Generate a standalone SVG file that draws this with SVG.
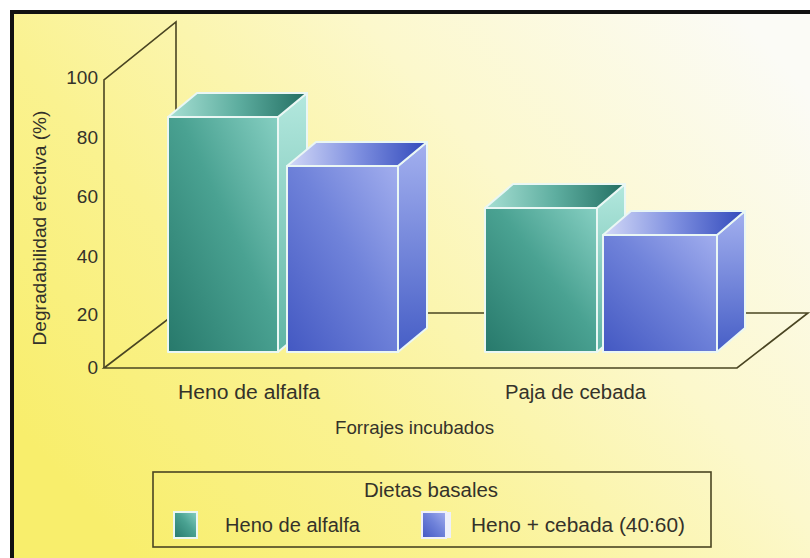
<svg xmlns="http://www.w3.org/2000/svg" width="810" height="558" viewBox="0 0 810 558">
<defs>
<linearGradient id="bg" x1="0" y1="0.75" x2="1" y2="0.15">
<stop offset="0" stop-color="#f8ee6c"/>
<stop offset="0.3" stop-color="#faf290"/>
<stop offset="0.65" stop-color="#fcf8cc"/>
<stop offset="1" stop-color="#fbfbf6"/>
</linearGradient>
<linearGradient id="tFront" x1="1" y1="0" x2="0" y2="1">
<stop offset="0" stop-color="#86cfc2"/>
<stop offset="0.45" stop-color="#4aa292"/>
<stop offset="1" stop-color="#27796b"/>
</linearGradient>
<linearGradient id="tSide" x1="0" y1="0" x2="0" y2="1">
<stop offset="0" stop-color="#b3e8de"/>
<stop offset="1" stop-color="#5fb4a4"/>
</linearGradient>
<linearGradient id="tTop" x1="0" y1="0" x2="1" y2="0">
<stop offset="0" stop-color="#a8e0d4"/>
<stop offset="0.5" stop-color="#5eaea0"/>
<stop offset="1" stop-color="#226e62"/>
</linearGradient>
<linearGradient id="bFront" x1="1" y1="0" x2="0" y2="1">
<stop offset="0" stop-color="#a2aeee"/>
<stop offset="0.45" stop-color="#7083da"/>
<stop offset="1" stop-color="#4358c2"/>
</linearGradient>
<linearGradient id="bSide" x1="0" y1="0" x2="0" y2="1">
<stop offset="0" stop-color="#a3b0ef"/>
<stop offset="1" stop-color="#465ec6"/>
</linearGradient>
<linearGradient id="bTop" x1="0" y1="0" x2="1" y2="0">
<stop offset="0" stop-color="#d4daf7"/>
<stop offset="0.5" stop-color="#7f90e0"/>
<stop offset="1" stop-color="#3149bb"/>
</linearGradient>
</defs>
<style>
.ax{fill:none;stroke:#4a4522;stroke-width:1.6}
.edge{stroke:#eaf7f4;stroke-width:2;stroke-linejoin:round}
text{font-family:"Liberation Sans",Arial,sans-serif;fill:#34322a}
.tick{font-size:19px;text-anchor:end}
.lbl{font-size:20px}
</style>
<rect x="0" y="0" width="810" height="558" fill="#ffffff"/>
<rect x="12" y="12" width="798" height="546" fill="url(#bg)"/>
<path d="M12 558 V12 H810" fill="none" stroke="#111" stroke-width="4"/>

<g id="axes" class="ax">
<path d="M104 368 V80 L176 22 V313"/>
<path d="M104 368 L176 313 H808 L737 368 Z"/>
</g>

<g id="ticks">
<text class="tick" x="98" y="84">100</text>
<text class="tick" x="98" y="144">80</text>
<text class="tick" x="98" y="203">60</text>
<text class="tick" x="98" y="263">40</text>
<text class="tick" x="98" y="321">20</text>
<text class="tick" x="98" y="374">0</text>
</g>
<text id="ytitle" x="0" y="0" font-size="18" text-anchor="middle" textLength="235" lengthAdjust="spacingAndGlyphs" transform="translate(46,228) rotate(-90)">Degradabilidad efectiva (%)</text>

<g id="bar-alfalfa-alfalfa" class="edge">
<polygon points="278,117 307,93 307,328 278,352" fill="url(#tSide)"/>
<polygon points="168,117 278,117 307,93 197,93" fill="url(#tTop)"/>
<rect x="168" y="117" width="110" height="235" fill="url(#tFront)"/>
</g>
<g id="bar-alfalfa-mezcla" class="edge">
<polygon points="398,166 427,142 427,328 398,352" fill="url(#bSide)"/>
<polygon points="287,166 398,166 427,142 316,142" fill="url(#bTop)"/>
<rect x="287" y="166" width="111" height="186" fill="url(#bFront)"/>
</g>
<g id="bar-paja-alfalfa" class="edge">
<polygon points="597,208 625,184 625,328 597,352" fill="url(#tSide)"/>
<polygon points="485,208 597,208 625,184 513,184" fill="url(#tTop)"/>
<rect x="485" y="208" width="112" height="144" fill="url(#tFront)"/>
</g>
<g id="bar-paja-mezcla" class="edge">
<polygon points="717,235 745,211 745,328 717,352" fill="url(#bSide)"/>
<polygon points="603,235 717,235 745,211 631,211" fill="url(#bTop)"/>
<rect x="603" y="235" width="114" height="117" fill="url(#bFront)"/>
</g>

<g id="xlabels">
<text class="lbl" x="178" y="399" textLength="142" lengthAdjust="spacingAndGlyphs">Heno de alfalfa</text>
<text class="lbl" x="505" y="399" textLength="141" lengthAdjust="spacingAndGlyphs">Paja de cebada</text>
<text x="335" y="434" font-size="19" textLength="159" lengthAdjust="spacingAndGlyphs">Forrajes incubados</text>
</g>

<g id="legend">
<rect x="153" y="472" width="558" height="75" fill="none" stroke="#4a4522" stroke-width="1.6"/>
<text class="lbl" x="364" y="497" textLength="134" lengthAdjust="spacingAndGlyphs">Dietas basales</text>
<rect x="174" y="512" width="23" height="26" fill="url(#tFront)" stroke="#eaf7f4" stroke-width="2"/>
<text class="lbl" x="225" y="532" textLength="135" lengthAdjust="spacingAndGlyphs">Heno de alfalfa</text>
<rect x="422" y="512" width="24" height="26" fill="url(#bFront)" stroke="#eef0fb" stroke-width="2"/>
<rect x="446" y="512" width="5" height="26" fill="#eef0fb"/>
<text class="lbl" x="471" y="532" textLength="214" lengthAdjust="spacingAndGlyphs">Heno + cebada (40:60)</text>
</g>
</svg>
